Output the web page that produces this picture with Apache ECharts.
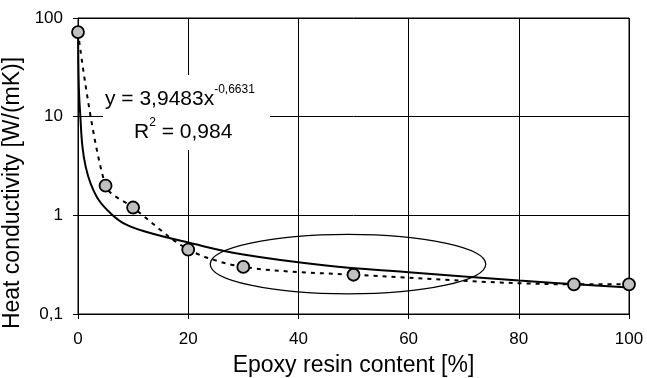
<!DOCTYPE html>
<html>
<head>
<meta charset="utf-8">
<script src="https://cdn.jsdelivr.net/npm/echarts@6/dist/echarts.min.js"></script>
<style>
html,body{margin:0;padding:0;background:#fff;}
#chart{width:647px;height:378px;}
</style>
</head>
<body>
<div id="chart"></div>
<script>
// measured points
var resinContent = [0, 5, 10, 20, 30, 50, 90, 100];
var conductivity = [72, 2.0, 1.2, 0.45, 0.30, 0.25, 0.20, 0.20];
// power trend line
var trendX = [0.02, 0.15, 0.44, 0.8, 1.4, 2.3, 3.8, 5.9, 8.3, 12, 20, 30, 45, 60, 80, 100];
var trendY = [72, 20, 9.8, 5.0, 3.1, 2.1, 1.42, 1.05, 0.83, 0.69, 0.53, 0.40, 0.31, 0.265, 0.218, 0.186];
var yTicks = ['0,1', '1', '10', '100'];
// ellipse around the low region: center and edge in data units
var ellipseCenter = [49, 0.32];
var ellipseEdge = [74, 0.64];

var font = 'Liberation Sans, Arial, sans-serif';
var myChart = echarts.init(document.getElementById('chart'));

var points = resinContent.map(function (x, i) { return [x, conductivity[i]]; });
var trend = trendX.map(function (x, i) { return [x, trendY[i]]; });

var option = {
    animation: false,
    grid: {
        left: 78, right: 18, top: 18, bottom: 64,
        outerBoundsMode: 'none', containLabel: false,
        show: true, borderColor: '#000', borderWidth: 1
    },
    xAxis: {
        type: 'value', min: 0, max: 100, interval: 20,
        name: 'Epoxy resin content [%]',
        nameLocation: 'middle', nameGap: 40,
        nameTextStyle: {fontFamily: font, fontSize: 23, color: '#000'},
        axisLine: {lineStyle: {color: '#000', width: 1}},
        axisTick: {show: true, length: 5, lineStyle: {color: '#000'}},
        axisLabel: {fontFamily: font, fontSize: 17, color: '#000', margin: 17},
        splitLine: {show: true, lineStyle: {color: '#000', width: 1}}
    },
    yAxis: {
        type: 'log', logBase: 10, min: 0.1, max: 100,
        name: 'Heat conductivity [W/(mK)]',
        nameLocation: 'middle', nameGap: 47,
        nameTextStyle: {fontFamily: font, fontSize: 23, color: '#000', padding: [0, 54, 0, 0]},
        axisLine: {show: true, lineStyle: {color: '#000', width: 1}},
        axisTick: {show: true, length: 5, lineStyle: {color: '#000'}},
        axisLabel: {
            fontFamily: font, fontSize: 17, color: '#000', margin: 15,
            formatter: function (v) {
                var k = Math.round(Math.log10(v)) + 1;
                return yTicks[k] !== undefined ? yTicks[k] : '';
            }
        },
        splitLine: {show: true, lineStyle: {color: '#000', width: 1}},
        minorTick: {show: false}
    },
    series: [
        {
            type: 'line', data: points, smooth: 0.3,
            showSymbol: false, z: 2,
            lineStyle: {color: '#000', width: 2, type: [4, 5]}
        },
        {
            type: 'line', data: trend, smooth: 0.4,
            showSymbol: false, z: 3,
            lineStyle: {color: '#000', width: 2}
        },
        {
            type: 'scatter', data: points, symbolSize: 12, z: 4,
            itemStyle: {color: '#c0c0c0', borderColor: '#000', borderWidth: 1.8, opacity: 1}
        }
    ]
};
myChart.setOption(option);

var c = myChart.convertToPixel({gridIndex: 0}, ellipseCenter);
var e = myChart.convertToPixel({gridIndex: 0}, ellipseEdge);

var rich = {
    m: {fontSize: 21, fontFamily: font, fill: '#000', lineHeight: 26, verticalAlign: 'bottom'},
    s: {fontSize: 12, fontFamily: font, fill: '#000', lineHeight: 26, verticalAlign: 'top'}
};

myChart.setOption({
    graphic: [
        {
            type: 'ellipse', z: 10,
            shape: {cx: c[0], cy: c[1], rx: e[0] - c[0], ry: c[1] - e[1]},
            style: {fill: 'none', stroke: '#000', lineWidth: 1.3}
        },
        {
            type: 'rect', z: 10,
            shape: {x: 103, y: 75, width: 167, height: 75},
            style: {fill: '#fff'}
        },
        {
            type: 'text', z: 11, left: 105, top: 84,
            style: {text: '{m|y = 3,9483x}{s|-0,6631}', fontFamily: font, rich: rich}
        },
        {
            type: 'text', z: 11, left: 134, top: 117,
            style: {text: '{m|R}{s|2}{m| = 0,984}', fontFamily: font, rich: rich}
        }
    ]
});
</script>
</body>
</html>
